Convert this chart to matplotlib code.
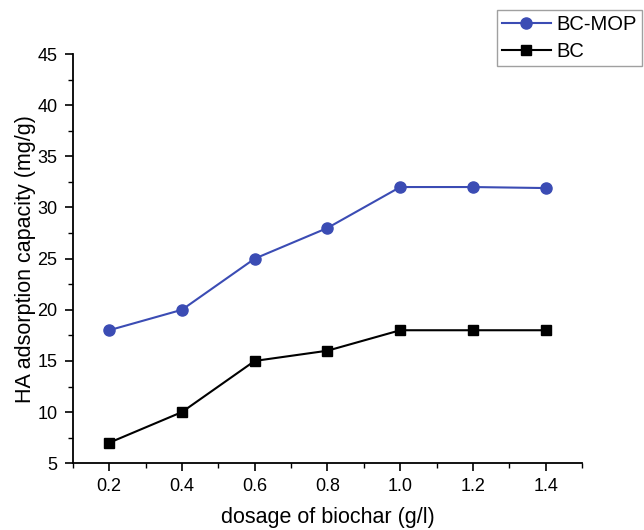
import matplotlib
matplotlib.use("Agg")
import matplotlib.pyplot as plt
from matplotlib.ticker import MultipleLocator

plt.rcParams['font.family'] = ['Liberation Sans', 'DejaVu Sans']

# data
dosage = [0.2, 0.4, 0.6, 0.8, 1.0, 1.2, 1.4]
bc_mop = [18, 20, 25, 28, 32, 32, 31.9]
bc = [7, 10, 15, 16, 18, 18, 18]

fig = plt.figure(figsize=(6.44, 5.30), dpi=100)
ax = fig.add_axes([0.113, 0.126, 0.791, 0.772])

l1, = ax.plot(dosage, bc_mop, color="#3b4cb4", marker="o", markersize=8,
              linewidth=1.5, label="BC-MOP")
l2, = ax.plot(dosage, bc, color="black", marker="s", markersize=7,
              linewidth=1.5, label="BC")

ax.set_xlim(0.1, 1.5)
ax.set_ylim(5, 45)
ax.xaxis.set_minor_locator(MultipleLocator(0.1))
ax.yaxis.set_major_locator(MultipleLocator(5))
ax.yaxis.set_minor_locator(MultipleLocator(2.5))
ax.set_xticks(dosage)
ax.set_xticklabels(["0.2", "0.4", "0.6", "0.8", "1.0", "1.2", "1.4"])

for s in ["top", "right"]:
    ax.spines[s].set_visible(False)
ax.spines["left"].set_linewidth(1.3)
ax.spines["bottom"].set_linewidth(1.3)
ax.tick_params(which="major", direction="out", length=6, width=1.2,
               labelsize=13, pad=5)
ax.tick_params(which="minor", direction="out", length=3.5, width=1.0)

ax.set_xlabel("dosage of biochar (g/l)", fontsize=15.5, labelpad=8)
ax.set_ylabel("HA adsorption capacity (mg/g)", fontsize=15.5, labelpad=1)

fig.legend(handles=[l1, l2], loc="upper right", bbox_to_anchor=(0.997, 0.982),
           fontsize=14.5, frameon=True, fancybox=False, edgecolor="#888888",
           handlelength=2.4, borderpad=0.25, labelspacing=0.4,
           handletextpad=0.3, borderaxespad=0)

fig.savefig("out.png", dpi=100)
